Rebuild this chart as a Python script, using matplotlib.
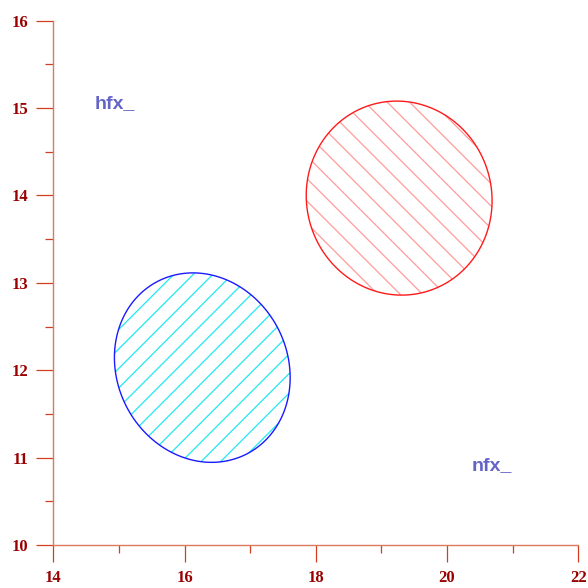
import matplotlib
matplotlib.use("Agg")
import matplotlib.pyplot as plt
from matplotlib.patches import Polygon
from matplotlib.collections import LineCollection
from matplotlib.transforms import IdentityTransform
from matplotlib.ticker import MultipleLocator
import numpy as np

# ellipse data: center, half extents and correlation
ell_names = ["red", "blue"]
ell_cx = [19.27, 16.27]
ell_cy = [13.97, 12.03]
ell_sx = [1.416, 1.339]
ell_sy = [1.110, 1.084]
ell_rho = [-0.027, -0.106]
ell_edge = ["#ff1a1a", "#1a1aff"]
ell_hatchcol = ["#ff9c9c", "#22e8f0"]

# hatch lines in pixels: direction (+1 falls to the right, -1 rises), spacing, phase
hatch_dir = [1, -1]
hatch_step = [22.4, 19.5]
hatch_phase = [-128.3, 506.7]

# labels placed on the plot
txt_labels = ["hfx_", "nfx_"]
txt_x = [14.63, 20.38]
txt_y = [15.0, 10.86]

x_lim = (14, 22)
y_lim = (10, 16)

W = 588
DPI = 100
fig = plt.figure(figsize=(W / DPI, W / DPI), dpi=DPI)
ax = fig.add_axes([0.0907, 0.0731, 0.8928, 0.8917])
ax.set_xlim(*x_lim)
ax.set_ylim(*y_lim)

t = np.linspace(0, 2 * np.pi, 300)
for i in range(len(ell_names)):
    xs = ell_cx[i] + ell_sx[i] * np.cos(t)
    ys = ell_cy[i] + ell_sy[i] * (ell_rho[i] * np.cos(t) + np.sqrt(1 - ell_rho[i] ** 2) * np.sin(t))
    pts = np.column_stack([xs, ys])
    outline = Polygon(pts, closed=True, fill=False, edgecolor=ell_edge[i], linewidth=1.0, zorder=3)
    ax.add_patch(outline)

    # diagonal hatching, drawn in pixel space and clipped by the ellipse
    segs = []
    for c in np.arange(hatch_phase[i] - 40 * hatch_step[i], hatch_phase[i] + 40 * hatch_step[i], hatch_step[i]):
        x0, x1 = -W, 2 * W
        if hatch_dir[i] > 0:
            segs.append([(x0, W - x0 - c), (x1, W - x1 - c)])
        else:
            segs.append([(x0, W + x0 - c), (x1, W + x1 - c)])
    lc = LineCollection(segs, colors=ell_hatchcol[i], linewidths=0.9,
                        transform=IdentityTransform(), zorder=2)
    ax.add_collection(lc, autolim=False)
    lc.set_clip_path(outline)

for lab, x, y in zip(txt_labels, txt_x, txt_y):
    ax.text(x, y, lab, color="#6464c8", fontsize=14, fontweight="bold",
            family="Liberation Sans", va="baseline", ha="left")

ax.set_xlim(*x_lim)
ax.set_ylim(*y_lim)
ax.xaxis.set_major_locator(MultipleLocator(2))
ax.xaxis.set_minor_locator(MultipleLocator(1))
ax.yaxis.set_major_locator(MultipleLocator(1))
ax.yaxis.set_minor_locator(MultipleLocator(0.5))

for side in ["top", "right"]:
    ax.spines[side].set_visible(False)
for side in ["left", "bottom"]:
    ax.spines[side].set_color("#e07a5c")
    ax.spines[side].set_linewidth(1.0)

ax.tick_params(which="major", length=12, width=0.9, color="#d04020",
               labelcolor="#990000", labelsize=12)
ax.tick_params(which="minor", length=5.8, width=0.9, color="#d04020")
ax.tick_params(axis="x", which="major", pad=6)
ax.tick_params(axis="y", which="major", pad=6)
for lbl in ax.get_xticklabels() + ax.get_yticklabels():
    lbl.set_family("Liberation Serif")
    lbl.set_fontweight("bold")

fig.savefig("out.png", dpi=DPI)
